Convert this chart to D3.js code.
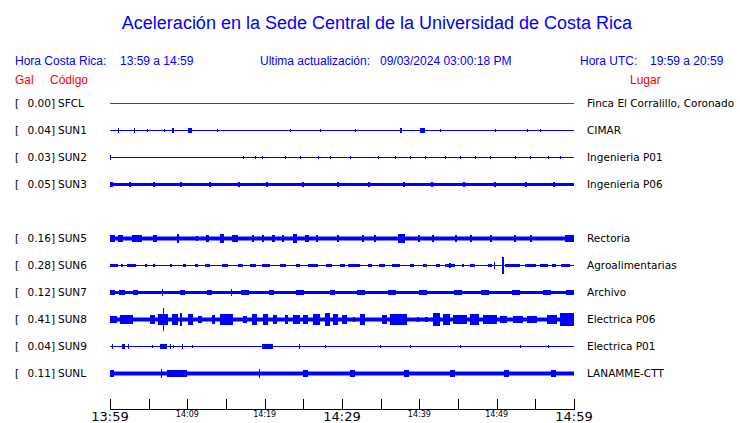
<!DOCTYPE html>
<html>
<head>
<meta charset="utf-8">
<script src="https://cdn.jsdelivr.net/npm/d3@7"></script>
<style>
  body { margin: 0; background: #fff; }
  svg { display: block; }
</style>
</head>
<body>
<svg width="740" height="423"></svg>
<script>
  // DATA
  var slots = ["SFCL", "SUN1", "SUN2", "SUN3", "SUN4", "SUN5", "SUN6", "SUN7", "SUN8", "SUN9", "SUNL"];
  var codes = ["SFCL", "SUN1", "SUN2", "SUN3", "SUN5", "SUN6", "SUN7", "SUN8", "SUN9", "SUNL"];
  var gal = [0.00, 0.04, 0.03, 0.05, 0.16, 0.28, 0.12, 0.41, 0.04, 0.11];
  var places = ["Finca El Corralillo, Coronado", "CIMAR", "Ingenieria P01", "Ingenieria P06", "Rectoria",
    "Agroalimentarias", "Archivo", "Electrica P06", "Electrica P01", "LANAMME-CTT"];
  // half width of the steady noise band for each station
  var baseAmp = [0.5, 0.5, 0.5, 1.5, 2, 0.5, 1.5, 2, 0.5, 2];
  var tickMinutes = [0, 5, 10, 15, 20, 25, 30, 35, 40, 45, 50, 55, 60];

  // bursts: [start minute, end minute, half amplitude], minutes after 13:59
  var burstSFCL = [];
  var burstSUN1 = [[1.0, 1.15, 2], [3.1, 3.25, 2], [4.8, 4.95, 1.5], [7.0, 7.15, 1.5], [8.0, 8.3, 2.5],
    [10.1, 10.6, 2], [13.8, 13.95, 1.5], [23.3, 23.45, 1.5], [27.2, 27.35, 1.5], [31.7, 31.85, 1.5],
    [37.5, 37.8, 2.5], [40.1, 40.7, 2.5], [42.7, 42.85, 1.5], [49.8, 49.95, 1.5], [53.9, 54.05, 1.5],
    [55.6, 55.75, 1.5]];
  var burstSUN2 = [[0, 0.15, 2], [17.2, 17.35, 1.5], [18.8, 18.95, 1.5], [19.7, 19.85, 1.5], [22.6, 22.75, 1.5],
    [24.6, 24.75, 1.5], [26.9, 27.05, 1.5], [28.4, 28.55, 1.5], [31.0, 31.15, 1.5], [34.7, 34.85, 1.5],
    [36.9, 37.05, 1.5], [38.8, 38.95, 1.5], [40.7, 40.85, 1.5], [43.3, 43.45, 1.5], [45.3, 45.45, 1.5],
    [47.2, 47.35, 1.5], [49.1, 49.25, 1.5], [52.4, 52.55, 1.5], [54.3, 54.45, 1.5], [56.6, 56.75, 1.5],
    [58.2, 58.35, 1.5]];
  var burstSUN3 = [[0, 0.4, 2.5], [2.5, 2.7, 2.5], [5.6, 5.8, 2.5], [9.0, 9.3, 2.5], [12.8, 13.0, 2.5],
    [16.5, 16.7, 2.5], [20.2, 20.5, 2.5], [24.8, 25.0, 2.5], [29.3, 29.5, 2.5], [33.4, 33.7, 2.5],
    [37.9, 38.1, 2.5], [41.5, 41.8, 2.5], [45.6, 45.8, 2.5], [49.7, 50.0, 2.5], [53.6, 53.8, 2.5],
    [57.3, 57.6, 2.5]];
  var burstSUN5 = [[0, 0.6, 3], [1.0, 1.6, 3.5], [2.8, 4.1, 3], [5.6, 6.1, 3], [8.7, 8.9, 4], [11.1, 11.4, 2.5],
    [12.4, 12.8, 3], [14.2, 14.7, 4.5], [15.8, 16.6, 3.5], [18.3, 18.5, 3], [19.6, 19.8, 3], [20.9, 21.3, 3],
    [22.3, 22.5, 3], [23.7, 24.2, 4], [25.2, 25.7, 3], [26.6, 26.9, 3], [29.3, 29.5, 3], [32.6, 32.9, 3],
    [34.2, 34.4, 3], [37.2, 38.1, 4], [39.8, 40.0, 3], [41.6, 41.8, 3], [44.6, 44.8, 3], [46.5, 46.7, 3],
    [49.1, 49.3, 3], [52.3, 52.6, 3], [54.3, 54.5, 3], [58.8, 60, 3.5]];
  var burstSUN6 = [[0, 1.0, 1.5], [1.4, 1.7, 1.5], [2.2, 3.4, 1.5], [4.5, 4.8, 1.5], [5.6, 5.9, 1.5],
    [7.8, 8.1, 1.5], [9.4, 9.8, 1.5], [11.0, 11.4, 1.5], [12.3, 12.9, 1.5], [14.5, 15.3, 1.5],
    [16.6, 17.2, 1.5], [18.1, 18.9, 1.5], [19.7, 20.7, 1.5], [22.0, 22.8, 1.5], [24.1, 24.6, 1.5],
    [25.6, 26.9, 1.5], [27.9, 28.7, 1.5], [29.7, 30.4, 1.5], [30.8, 32.3, 1.5], [33.4, 33.9, 1.5],
    [34.8, 35.6, 1.5], [36.5, 37.5, 1.5], [38.8, 39.3, 1.5], [40.5, 41.0, 1.5], [42.2, 42.7, 1.5],
    [43.3, 44.6, 1.5], [43.9, 44.1, 2.5], [45.5, 45.8, 1.5], [46.6, 47.3, 1.5], [48.9, 49.4, 1.5],
    [49.7, 49.85, 3], [50.7, 50.95, 8], [51.1, 53.0, 1.5], [53.7, 55.1, 1.5], [55.6, 56.6, 1.5],
    [57.2, 57.7, 1.5], [58.3, 59.5, 1.5]];
  var burstSUN7 = [[0, 0.7, 2], [1.2, 2.0, 2], [3.0, 3.6, 2], [6.7, 6.85, 3.5], [9.0, 9.6, 2], [12.5, 13.2, 2],
    [15.6, 15.75, 3.5], [17.0, 18.0, 2], [20.5, 21.2, 2], [24.0, 25.0, 2], [28.5, 29.2, 2], [32.0, 33.0, 2],
    [36.0, 37.0, 2], [40.0, 41.0, 2], [44.5, 45.5, 2], [48.0, 49.0, 2], [52.0, 53.0, 2], [56.0, 57.0, 2],
    [59.0, 60, 2.5]];
  var burstSUN8 = [[0, 0.9, 3.5], [1.3, 3.0, 4.5], [5.2, 5.8, 4], [6.2, 7.5, 5], [6.8, 6.95, 11.5], [8.0, 8.8, 5],
    [9.1, 9.4, 6.5], [10.1, 10.7, 5], [11.4, 11.9, 3], [13.2, 13.6, 4], [14.2, 15.9, 5], [17.2, 17.7, 3],
    [18.4, 19.0, 5], [19.8, 20.4, 5.5], [21.1, 21.6, 4], [22.6, 23.0, 4], [23.7, 24.6, 4], [25.0, 25.6, 4],
    [26.3, 27.2, 5], [27.8, 28.4, 6.5], [28.8, 29.5, 5], [30.0, 30.6, 4], [31.4, 31.7, 2], [32.3, 33.0, 5.5],
    [35.2, 35.8, 4], [36.2, 38.4, 5], [39.7, 39.9, 2], [40.7, 41.1, 2], [41.8, 42.7, 6], [43.1, 44.0, 5],
    [44.4, 46.2, 4], [46.6, 47.8, 5], [48.2, 50.0, 4], [50.4, 51.3, 3], [52.1, 53.4, 3], [53.9, 55.2, 3],
    [56.5, 57.8, 4], [58.2, 60, 6]];
  var burstSUN9 = [[0.3, 0.45, 2], [1.5, 1.9, 2], [2.3, 2.45, 2], [5.4, 5.55, 1.5], [6.5, 7.4, 2],
    [7.7, 7.85, 2], [8.1, 8.25, 1.5], [9.3, 9.45, 2], [10.6, 10.75, 1.5], [19.6, 21.0, 2], [24.5, 24.65, 2],
    [27.8, 27.95, 1.5], [34.9, 35.05, 1.5], [38.8, 38.95, 1.5], [45.3, 45.45, 1.5], [53.0, 53.15, 1.5],
    [56.6, 56.75, 1.5]];
  var burstSUNL = [[0, 0.5, 3], [6.6, 6.75, 4], [7.4, 10.0, 3], [19.3, 19.45, 4.5], [25.0, 25.6, 3],
    [31.0, 31.6, 3], [38.0, 38.6, 3], [44.0, 44.6, 3], [51.0, 51.6, 3], [57.0, 57.6, 3]];
  var bursts = [burstSFCL, burstSUN1, burstSUN2, burstSUN3, burstSUN5, burstSUN6, burstSUN7, burstSUN8, burstSUN9, burstSUNL];

  var title = "Aceleración en la Sede Central de la Universidad de Costa Rica";
  var horaCR = "13:59 a 14:59", horaUTC = "19:59 a 20:59", updated = "09/03/2024 03:00:18 PM";

  // SETUP
  var svg = d3.select("svg");
  var blue = "#0000ff", red = "#ff0000";
  var start = new Date(2024, 8, 3, 13, 59), end = new Date(2024, 8, 3, 14, 59);

  var x = d3.scaleTime().domain([start, end]).range([110, 574]);
  var y = d3.scalePoint().domain(slots).range([103, 373]);
  var amp = d3.scaleLinear().domain([0, 10]).range([0, 10]);

  function t(m) { return d3.timeSecond.offset(start, Math.round(m * 60)); }

  // header
  svg.append("text").attr("x", 377).attr("y", 29).attr("text-anchor", "middle")
    .style("font", "18px 'Liberation Sans', Arial, sans-serif").attr("fill", blue).text(title);

  var hdr = svg.append("g").style("font", "12px 'Liberation Sans', Arial, sans-serif").attr("fill", blue);
  hdr.append("text").attr("x", 15).attr("y", 65).text("Hora Costa Rica:");
  hdr.append("text").attr("x", 120).attr("y", 65).text(horaCR);
  hdr.append("text").attr("x", 260).attr("y", 65).text("Ultima actualización:");
  hdr.append("text").attr("x", 380).attr("y", 65).text(updated);
  hdr.append("text").attr("x", 580).attr("y", 65).text("Hora UTC:");
  hdr.append("text").attr("x", 650).attr("y", 65).text(horaUTC);

  var hdr2 = svg.append("g").style("font", "12px 'Liberation Sans', Arial, sans-serif").attr("fill", red);
  hdr2.append("text").attr("x", 15).attr("y", 84).text("Gal");
  hdr2.append("text").attr("x", 50).attr("y", 84).text("Código");
  hdr2.append("text").attr("x", 630).attr("y", 84).text("Lugar");

  // rows (half pixel offset keeps 1px traces crisp)
  var rows = svg.selectAll(".row").data(codes).enter().append("g")
    .attr("class", "row")
    .attr("transform", function (d) { return "translate(0," + (y(d) + 0.5) + ")"; });

  var lab = rows.append("g").style("font", "10.5px 'DejaVu Sans', sans-serif").attr("fill", "#000");
  lab.append("text").attr("x", 15).attr("y", 3.5).text("[");
  lab.append("text").attr("x", 55).attr("y", 3.5).attr("text-anchor", "end")
    .text(function (d, i) { return gal[i].toFixed(2) + "]"; });
  lab.append("text").attr("x", 58).attr("y", 3.5).text(function (d) { return d; });
  lab.append("text").attr("x", 587).attr("y", 3.5).text(function (d, i) { return places[i]; });

  rows.each(function (d, i) {
    var g = d3.select(this);
    var col = d == "SFCL" ? red : blue;
    var b = Math.max(amp(baseAmp[i]), 0.5);
    g.append("rect")
      .attr("x", x(start)).attr("width", x(end) - x(start))
      .attr("y", -b).attr("height", 2 * b)
      .attr("fill", col);
    g.selectAll(".burst").data(bursts[i]).enter().append("rect")
      .attr("class", "burst")
      .attr("x", function (e) { return Math.round(x(t(e[0]))); })
      .attr("width", function (e) { return Math.max(Math.round(x(t(e[1])) - x(t(e[0]))), 1); })
      .attr("y", function (e) { return -Math.round(amp(e[2]) - 0.5) - 0.5; })
      .attr("height", function (e) { return 2 * Math.round(amp(e[2]) - 0.5) + 1; })
      .attr("fill", col);
  });

  // time axis
  var ticks = tickMinutes.map(function (m) { return d3.timeMinute.offset(start, m); });
  var ax = svg.append("g");
  ax.append("line").attr("x1", x(start)).attr("x2", x(end) + 1).attr("y1", 409.5).attr("y2", 409.5)
    .attr("stroke", "#000");
  ax.selectAll(".tk").data(ticks).enter().append("line")
    .attr("class", "tk")
    .attr("x1", function (d) { return Math.round(x(d)) + 0.5; })
    .attr("x2", function (d) { return Math.round(x(d)) + 0.5; })
    .attr("y1", 399).attr("y2", 409)
    .attr("stroke", "#000");
  var fmt = d3.timeFormat("%H:%M");
  ax.selectAll(".tl").data(ticks.filter(function (d, i) { return i % 2 == 0; })).enter().append("text")
    .attr("class", "tl")
    .attr("x", function (d) { return x(d); })
    .attr("y", function (d, i) { return i % 3 == 0 ? 421 : 417; })
    .attr("text-anchor", "middle")
    .style("font-family", "'DejaVu Sans', sans-serif")
    .style("font-size", function (d, i) { return i % 3 == 0 ? "13px" : "8px"; })
    .text(fmt);
</script>
</body>
</html>
